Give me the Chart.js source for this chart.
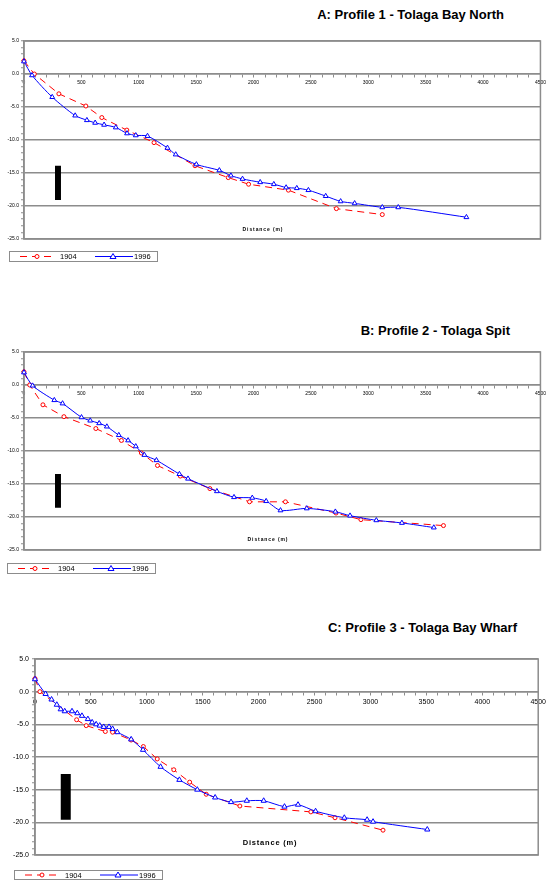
<!DOCTYPE html>
<html>
<head>
<meta charset="utf-8">
<script src="https://cdn.jsdelivr.net/npm/chart.js@4.4.1/dist/chart.umd.min.js"></script>
<style>
body { margin: 0; background: #fff; }
#page { position: relative; width: 549px; height: 886px; overflow: hidden; font-family: "Liberation Sans", Arial, sans-serif; }
.plot { position: absolute; left: 0; width: 549px; }
.ttl { position: absolute; font-family: "Liberation Sans Narrow", "Arial Narrow", "Liberation Sans", sans-serif; font-weight: bold; white-space: nowrap; line-height: 1; }
.dist { position: absolute; font-weight: bold; white-space: nowrap; line-height: 1; transform: translateX(-50%); }
.leg { position: absolute; border: 1px solid #8c8c8c; background: #fff; }
</style>
</head>
<body>
<div id="page">
  <div class="ttl" style="right:45px;top:8px;font-size:13px">A: Profile 1 - Tolaga Bay North</div>
  <div class="plot" style="top:31px;height:219px"><canvas id="p1" width="549" height="219"></canvas></div>
  <div class="dist" style="left:263px;top:227px;font-size:5px;letter-spacing:0.9px">Distance (m)</div>
  <div class="leg" id="leg1" style="left:9px;top:251px"></div>

  <div class="ttl" style="right:39px;top:324px;font-size:13px">B: Profile 2 - Tolaga Spit</div>
  <div class="plot" style="top:342px;height:219px"><canvas id="p2" width="549" height="219"></canvas></div>
  <div class="dist" style="left:268px;top:537px;font-size:5px;letter-spacing:0.9px">Distance (m)</div>
  <div class="leg" id="leg2" style="left:7px;top:563px"></div>

  <div class="ttl" style="right:32px;top:621px;font-size:13px">C: Profile 3 - Tolaga Bay Wharf</div>
  <div class="plot" style="top:649px;height:217px"><canvas id="p3" width="549" height="217"></canvas></div>
  <div class="dist" style="left:270px;top:839px;font-size:7.5px;letter-spacing:0.8px">Distance (m)</div>
  <div class="leg" id="leg3" style="left:14px;top:870px"></div>
</div>

<script>
// tick labels and series names
var xTicks = [0, 500, 1000, 1500, 2000, 2500, 3000, 3500, 4000, 4500];
var yTicks = [5, 0, -5, -10, -15, -20, -25];
var seriesNames = ['1904', '1996'];

// Profile 1 - Tolaga Bay North
var p1Dist1904 = [0, 90, 304, 539, 678, 896, 1133, 1490, 1780, 1957, 2304, 2722, 3122];
var p1Elev1904 = [2.0, 0.0, -3.0, -4.85, -6.6, -8.5, -10.4, -13.9, -15.7, -16.7, -17.6, -20.4, -21.3];
var p1Dist1996 = [0, 70, 246, 446, 548, 620, 698, 800, 898, 974, 1076, 1250, 1322, 1502, 1702, 1803, 1904, 2058, 2177, 2284, 2377, 2478, 2629, 2759, 2881, 3122, 3261, 3855];
var p1Elev1996 = [1.9, -0.2, -3.5, -6.3, -7.0, -7.4, -7.7, -8.1, -9.0, -9.3, -9.4, -11.2, -12.2, -13.7, -14.6, -15.4, -15.9, -16.4, -16.7, -17.2, -17.3, -17.6, -18.5, -19.3, -19.6, -20.2, -20.2, -21.7];

// Profile 2 - Tolaga Spit
var p2Dist1904 = [0, 50, 165, 348, 626, 849, 1023, 1163, 1362, 1620, 1965, 2278, 2719, 2936, 3655];
var p2Elev1904 = [2.0, 0.0, -3.0, -4.8, -6.6, -8.4, -10.3, -12.2, -13.8, -15.7, -17.7, -17.7, -19.4, -20.4, -21.3];
var p2Dist1996 = [0, 75, 264, 336, 501, 577, 655, 722, 826, 907, 974, 1049, 1154, 1354, 1429, 1681, 1830, 1989, 2110, 2235, 2464, 2713, 2841, 3070, 3293, 3571];
var p2Elev1996 = [1.9, -0.1, -2.3, -2.8, -4.9, -5.4, -5.8, -6.3, -7.6, -8.4, -9.3, -10.6, -11.4, -13.5, -14.2, -16.1, -17.0, -17.1, -17.6, -19.0, -18.7, -19.2, -19.8, -20.5, -20.9, -21.6];

// Profile 3 - Tolaga Bay Wharf
var p3Dist1904 = [0, 44, 372, 458, 629, 694, 860, 969, 1093, 1241, 1383, 1531, 1832, 2467, 2683, 3112];
var p3Elev1904 = [2.0, 0.0, -4.3, -5.2, -6.1, -6.2, -7.4, -8.4, -10.3, -11.95, -13.85, -15.7, -17.5, -18.4, -19.3, -21.2];
var p3Dist1996 = [0, 95, 148, 195, 230, 266, 331, 378, 420, 473, 511, 547, 579, 615, 662, 694, 736, 860, 966, 1123, 1291, 1451, 1611, 1753, 1894, 2045, 2231, 2352, 2509, 2766, 2970, 3023, 3508];
var p3Elev1996 = [1.9, -0.35, -1.2, -2.0, -2.7, -3.0, -3.0, -3.3, -3.7, -4.2, -4.7, -5.0, -5.2, -5.4, -5.4, -5.7, -6.2, -7.3, -8.9, -11.5, -13.5, -15.0, -16.2, -16.9, -16.7, -16.7, -17.6, -17.3, -18.3, -19.3, -19.6, -19.9, -21.1];

// black vertical bars (profile 1, 2, 3)
var barDist = [296, 296, 275];
var barTop = [-13.9, -13.5, -12.6];
var barBottom = [-19.1, -18.6, -19.6];

Chart.defaults.color = '#000';
Chart.defaults.font.family = '"Liberation Sans", Arial, sans-serif';

var GRID = '#8c8c8c';

function pts(xs, ys) {
    return xs.map(function (x, i) { return { x: x, y: ys[i] }; });
}

// gray frame round the plot area
var frame = {
    id: 'frame',
    beforeDatasetsDraw: function (chart) {
        var a = chart.chartArea, c = chart.ctx;
        c.save();
        c.strokeStyle = GRID;
        c.lineWidth = 1.5;
        c.strokeRect(a.left, a.top, a.right - a.left, a.bottom - a.top);
        c.restore();
    }
};

function makeChart(id, n, d1904, e1904, d1996, e1996, o) {
    var ctx = document.getElementById(id).getContext('2d');
    return new Chart(ctx, {
        type: 'line',
        data: {
            datasets: [{
                label: seriesNames[1],
                data: pts(d1996, e1996),
                borderColor: '#0000ff',
                borderWidth: 1,
                tension: 0.25,
                pointStyle: 'triangle',
                pointRadius: o.tri,
                pointBorderColor: '#0000ff',
                pointBackgroundColor: '#fff',
                pointBorderWidth: 1,
                clip: 8
            }, {
                label: seriesNames[0],
                data: pts(d1904, e1904),
                borderColor: '#ff0000',
                borderWidth: 1,
                borderDash: [7, 5],
                tension: 0,
                pointStyle: 'circle',
                pointRadius: o.circ,
                pointBorderColor: '#ff0000',
                pointBackgroundColor: '#fff',
                pointBorderWidth: 1,
                clip: 8
            }, {
                label: 'bar',
                data: [{ x: barDist[n], y: barTop[n] }, { x: barDist[n], y: barBottom[n] }],
                borderColor: '#000',
                borderWidth: o.bar,
                borderCapStyle: 'butt',
                pointRadius: 0
            }]
        },
        options: {
            responsive: false,
            animation: false,
            events: [],
            layout: { padding: { left: 0, right: o.right, top: 10, bottom: 11 } },
            plugins: { legend: { display: false }, tooltip: { enabled: false } },
            scales: {
                x: {
                    type: 'linear',
                    position: { y: 0 },
                    min: 0,
                    max: 4500,
                    ticks: {
                        stepSize: 100,
                        autoSkip: false,
                        maxRotation: 0,
                        padding: 3,
                        font: { size: o.fs },
                        callback: function (v) { return xTicks.indexOf(v) >= 0 ? String(v) : ''; }
                    },
                    grid: { drawOnChartArea: false, tickColor: GRID, tickLength: 3, tickWidth: 1 },
                    border: { color: GRID, width: 1.5 }
                },
                y: {
                    min: -25,
                    max: 5,
                    afterFit: function (s) { s.width = o.left; },
                    ticks: {
                        stepSize: 1,
                        autoSkip: false,
                        padding: o.ypad,
                        font: { size: o.fs },
                        callback: function (v) { return yTicks.indexOf(v) >= 0 ? v.toFixed(1) : ''; }
                    },
                    grid: {
                        color: function (c) { return (c.tick && yTicks.indexOf(c.tick.value) >= 0) ? GRID : 'rgba(0,0,0,0)'; },
                        lineWidth: 1.5,
                        tickColor: GRID,
                        tickLength: 3,
                        tickWidth: 1
                    },
                    border: { color: GRID, width: 1.5 }
                }
            }
        },
        plugins: [frame]
    });
}

makeChart('p1', 0, p1Dist1904, p1Elev1904, p1Dist1996, p1Elev1996, { left: 24, right: 7, fs: 5, ypad: 2, tri: 2.8, circ: 2, bar: 6 });
makeChart('p2', 1, p2Dist1904, p2Elev1904, p2Dist1996, p2Elev1996, { left: 24, right: 7, fs: 5, ypad: 2, tri: 2.8, circ: 2, bar: 6 });
makeChart('p3', 2, p3Dist1904, p3Elev1904, p3Dist1996, p3Elev1996, { left: 35, right: 6, fs: 7, ypad: 3, tri: 3, circ: 2, bar: 10 });

// legend boxes
function legend(id, h, fs) {
    var cy = h / 2;
    var s = '<svg width="147" height="' + h + '" style="display:block">';
    s += '<line x1="10" y1="' + cy + '" x2="45" y2="' + cy + '" stroke="#ff0000" stroke-width="1" stroke-dasharray="7,5"/>';
    s += '<circle cx="27" cy="' + cy + '" r="2" fill="#fff" stroke="#ff0000" stroke-width="1"/>';
    s += '<text x="50" y="' + (cy + fs * 0.36) + '" font-size="' + fs + '" font-family="Liberation Sans, Arial, sans-serif">' + seriesNames[0] + '</text>';
    s += '<line x1="85" y1="' + cy + '" x2="123" y2="' + cy + '" stroke="#0000ff" stroke-width="1"/>';
    s += '<polygon points="103,' + (cy - 3) + ' 100,' + (cy + 2) + ' 106,' + (cy + 2) + '" fill="#fff" stroke="#0000ff" stroke-width="1"/>';
    s += '<text x="124" y="' + (cy + fs * 0.36) + '" font-size="' + fs + '" font-family="Liberation Sans, Arial, sans-serif">' + seriesNames[1] + '</text>';
    s += '</svg>';
    document.getElementById(id).innerHTML = s;
}
legend('leg1', 9, 7.5);
legend('leg2', 9, 7.5);
legend('leg3', 8, 7.5);
</script>
</body>
</html>
